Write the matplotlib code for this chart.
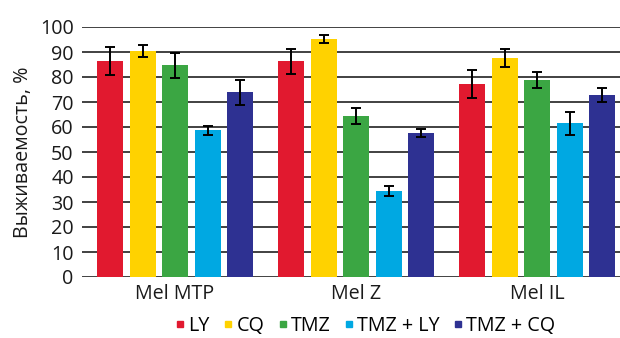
import matplotlib
matplotlib.use("Agg")
import matplotlib.pyplot as plt
import numpy as np
from matplotlib.lines import Line2D

plt.rcParams['font.family'] = ['Open Sans', 'DejaVu Sans']

categories = ["Mel MTP", "Mel Z", "Mel IL"]
series = ["LY", "CQ", "TMZ", "TMZ + LY", "TMZ + CQ"]
values = {
    "LY":       [86.4, 86.4, 77.2],
    "CQ":       [90.4, 95.2, 87.6],
    "TMZ":      [84.8, 64.4, 78.8],
    "TMZ + LY": [58.8, 34.4, 61.6],
    "TMZ + CQ": [74.0, 57.6, 72.8],
}
errors = {
    "LY":       [5.7, 5.0, 5.7],
    "CQ":       [2.6, 1.7, 3.7],
    "TMZ":      [5.0, 3.2, 3.1],
    "TMZ + LY": [1.8, 1.9, 4.6],
    "TMZ + CQ": [5.0, 1.7, 2.7],
}
colors = ["#E1192F", "#FFD200", "#3BA643", "#00A8E2", "#2E3192"]

fig = plt.figure(figsize=(6.2, 3.38), dpi=100)
ax = fig.add_axes([82/620, 1-277/338, (620-82)/620, 250/338])

unit = 181.0
step = 32.5/unit
width = 26/unit
x = np.arange(len(categories))
for i, s in enumerate(series):
    off = (i - 2) * step
    ax.bar(x + off, values[s], width, color=colors[i], zorder=3)
    ax.errorbar(x + off, values[s], yerr=errors[s], fmt='none', ecolor='black',
                elinewidth=1.4, capsize=3.5, capthick=1.4, zorder=4)

ax.set_ylim(0, 100)
ax.set_xlim(-93/unit, 2 + 83/unit)
ax.set_yticks(np.arange(0, 101, 10))
ax.yaxis.grid(True, color='#333333', linewidth=1.3, zorder=0)
ax.set_axisbelow(True)
for sp in ax.spines.values():
    sp.set_visible(False)
ax.tick_params(axis='both', length=0, labelsize=14.2, colors='#1a1a1a')
ax.tick_params(axis='y', pad=6)
ax.tick_params(axis='x', pad=5)
ax.set_xticks(x)
ax.set_xticklabels(categories)
ax.set_ylabel("Выживаемость, %", fontsize=14.2, color='#1a1a1a', labelpad=5)

handles = [Line2D([0], [0], marker='s', linestyle='none', markersize=5,
                  markerfacecolor=c, markeredgecolor=c) for c in colors]
fig.legend(handles, series, loc='center', bbox_to_anchor=(364/620, 1-326/338),
           ncol=5, frameon=False, fontsize=14.2, handletextpad=0.0,
           columnspacing=0.55, handlelength=0.8, borderaxespad=0)

fig.savefig("out.png", dpi=100)
